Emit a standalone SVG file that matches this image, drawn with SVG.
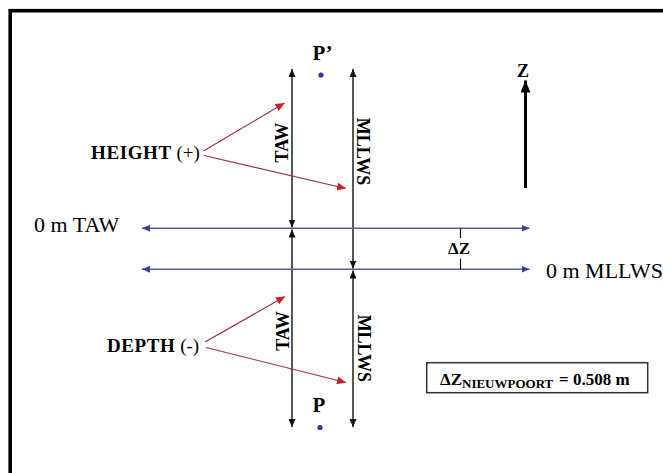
<svg xmlns="http://www.w3.org/2000/svg" width="663" height="473" viewBox="0 0 663 473">
<style>
text{font-family:"Liberation Serif","Times New Roman",serif;fill:#000}
.b{font-weight:bold}
.vl{stroke:#111;stroke-width:1.4;fill:none;marker-start:url(#ak);marker-end:url(#ak)}
.hl{stroke:#5b5b9c;stroke-width:1.5;fill:none;marker-start:url(#ab);marker-end:url(#ab)}
.rl{stroke:#a0303e;stroke-width:1.2;fill:none;marker-end:url(#ar)}
.tk{stroke:#111;stroke-width:1.2}
</style>
<defs>
<marker id="ak" markerUnits="userSpaceOnUse" markerWidth="9" markerHeight="7" refX="8" refY="3.5" orient="auto-start-reverse"><path d="M0,0 L8,3.5 L0,7 z" fill="#111"/></marker>
<marker id="ab" markerUnits="userSpaceOnUse" markerWidth="9" markerHeight="7" refX="8" refY="3.5" orient="auto-start-reverse"><path d="M0,0 L8,3.5 L0,7 z" fill="#3b3ba6"/></marker>
<marker id="ar" markerUnits="userSpaceOnUse" markerWidth="10" markerHeight="8" refX="9" refY="4" orient="auto"><path d="M0,0 L9,4 L0,8 z" fill="#cc2020"/></marker>
<marker id="az" markerUnits="userSpaceOnUse" markerWidth="13" markerHeight="10" refX="12" refY="5" orient="auto"><path d="M0,0 L12,5 L0,10 z" fill="#000"/></marker>
</defs>
<rect x="0" y="0" width="663" height="473" fill="#fff"/>
<rect id="frame" x="10.2" y="10.7" width="700" height="500" fill="none" stroke="#000" stroke-width="3.6"/>

<g id="connectors">
<line class="vl" x1="292" y1="69" x2="292" y2="227.5"/>
<line class="vl" x1="292" y1="229.5" x2="292" y2="427"/>
<line class="vl" x1="353" y1="69" x2="353" y2="268.5"/>
<line class="vl" x1="353" y1="270.5" x2="353" y2="427"/>
<line class="hl" x1="142" y1="228.3" x2="529.5" y2="228.3"/>
<line class="hl" x1="142" y1="269.3" x2="529.5" y2="269.3"/>
<line class="tk" x1="460.5" y1="228.3" x2="460.5" y2="238"/>
<line class="tk" x1="460.5" y1="258.5" x2="460.5" y2="269.3"/>
<line class="rl" x1="203.5" y1="151" x2="284.5" y2="103"/>
<line class="rl" x1="204" y1="155.5" x2="346" y2="188.5"/>
<line class="rl" x1="205" y1="342" x2="285" y2="296.5"/>
<line class="rl" x1="206" y1="347.5" x2="346" y2="382.5"/>
<line x1="525.5" y1="188" x2="525.5" y2="80.5" stroke="#000" stroke-width="3" marker-end="url(#az)"/>
</g>

<g id="pprime">
<text class="b" x="322.5" y="60" font-size="21" text-anchor="middle">P’</text>
<circle cx="321" cy="75" r="2.6" fill="#3333aa"/>
</g>
<g id="p">
<text class="b" x="319" y="411.5" font-size="21" text-anchor="middle">P</text>
<circle cx="320" cy="427.5" r="2.6" fill="#3333aa"/>
</g>
<g id="z-axis">
<text class="b" x="523" y="77.3" font-size="18" text-anchor="middle">Z</text>
</g>
<g id="height">
<text x="91" y="159" font-size="19"><tspan class="b" letter-spacing="0.6">HEIGHT</tspan> <tspan>(+)</tspan></text>
</g>
<g id="depth">
<text x="107" y="352" font-size="19"><tspan class="b" letter-spacing="0.6">DEPTH</tspan> <tspan>(-)</tspan></text>
</g>
<g id="taw-upper">
<text class="b" font-size="18" text-anchor="middle" transform="translate(288,142.7) rotate(-90)">TAW</text>
</g>
<g id="mllws-upper">
<text class="b" font-size="18" text-anchor="middle" transform="translate(357,151.5) rotate(90)">MLLWS</text>
</g>
<g id="taw-lower">
<text class="b" font-size="18" text-anchor="middle" transform="translate(288.5,331) rotate(-90)">TAW</text>
</g>
<g id="mllws-lower">
<text class="b" font-size="18" text-anchor="middle" transform="translate(358,348.3) rotate(90)">MLLWS</text>
</g>
<g id="taw-zero">
<text x="34" y="231.5" font-size="22">0 m TAW</text>
</g>
<g id="mllws-zero">
<text x="546" y="278" font-size="22">0 m MLLWS</text>
</g>
<g id="dz">
<text class="b" x="459" y="254.3" font-size="17" text-anchor="middle">ΔZ</text>
</g>
<g id="dz-box">
<rect x="426.7" y="362.7" width="221" height="30" fill="#fff" stroke="#333" stroke-width="1.5"/>
<text class="b" x="440" y="385" font-size="17">ΔZ<tspan font-size="13" dy="3">NIEUWPOORT</tspan><tspan dy="-3" x="559">= 0.508 m</tspan></text>
</g>
</svg>
